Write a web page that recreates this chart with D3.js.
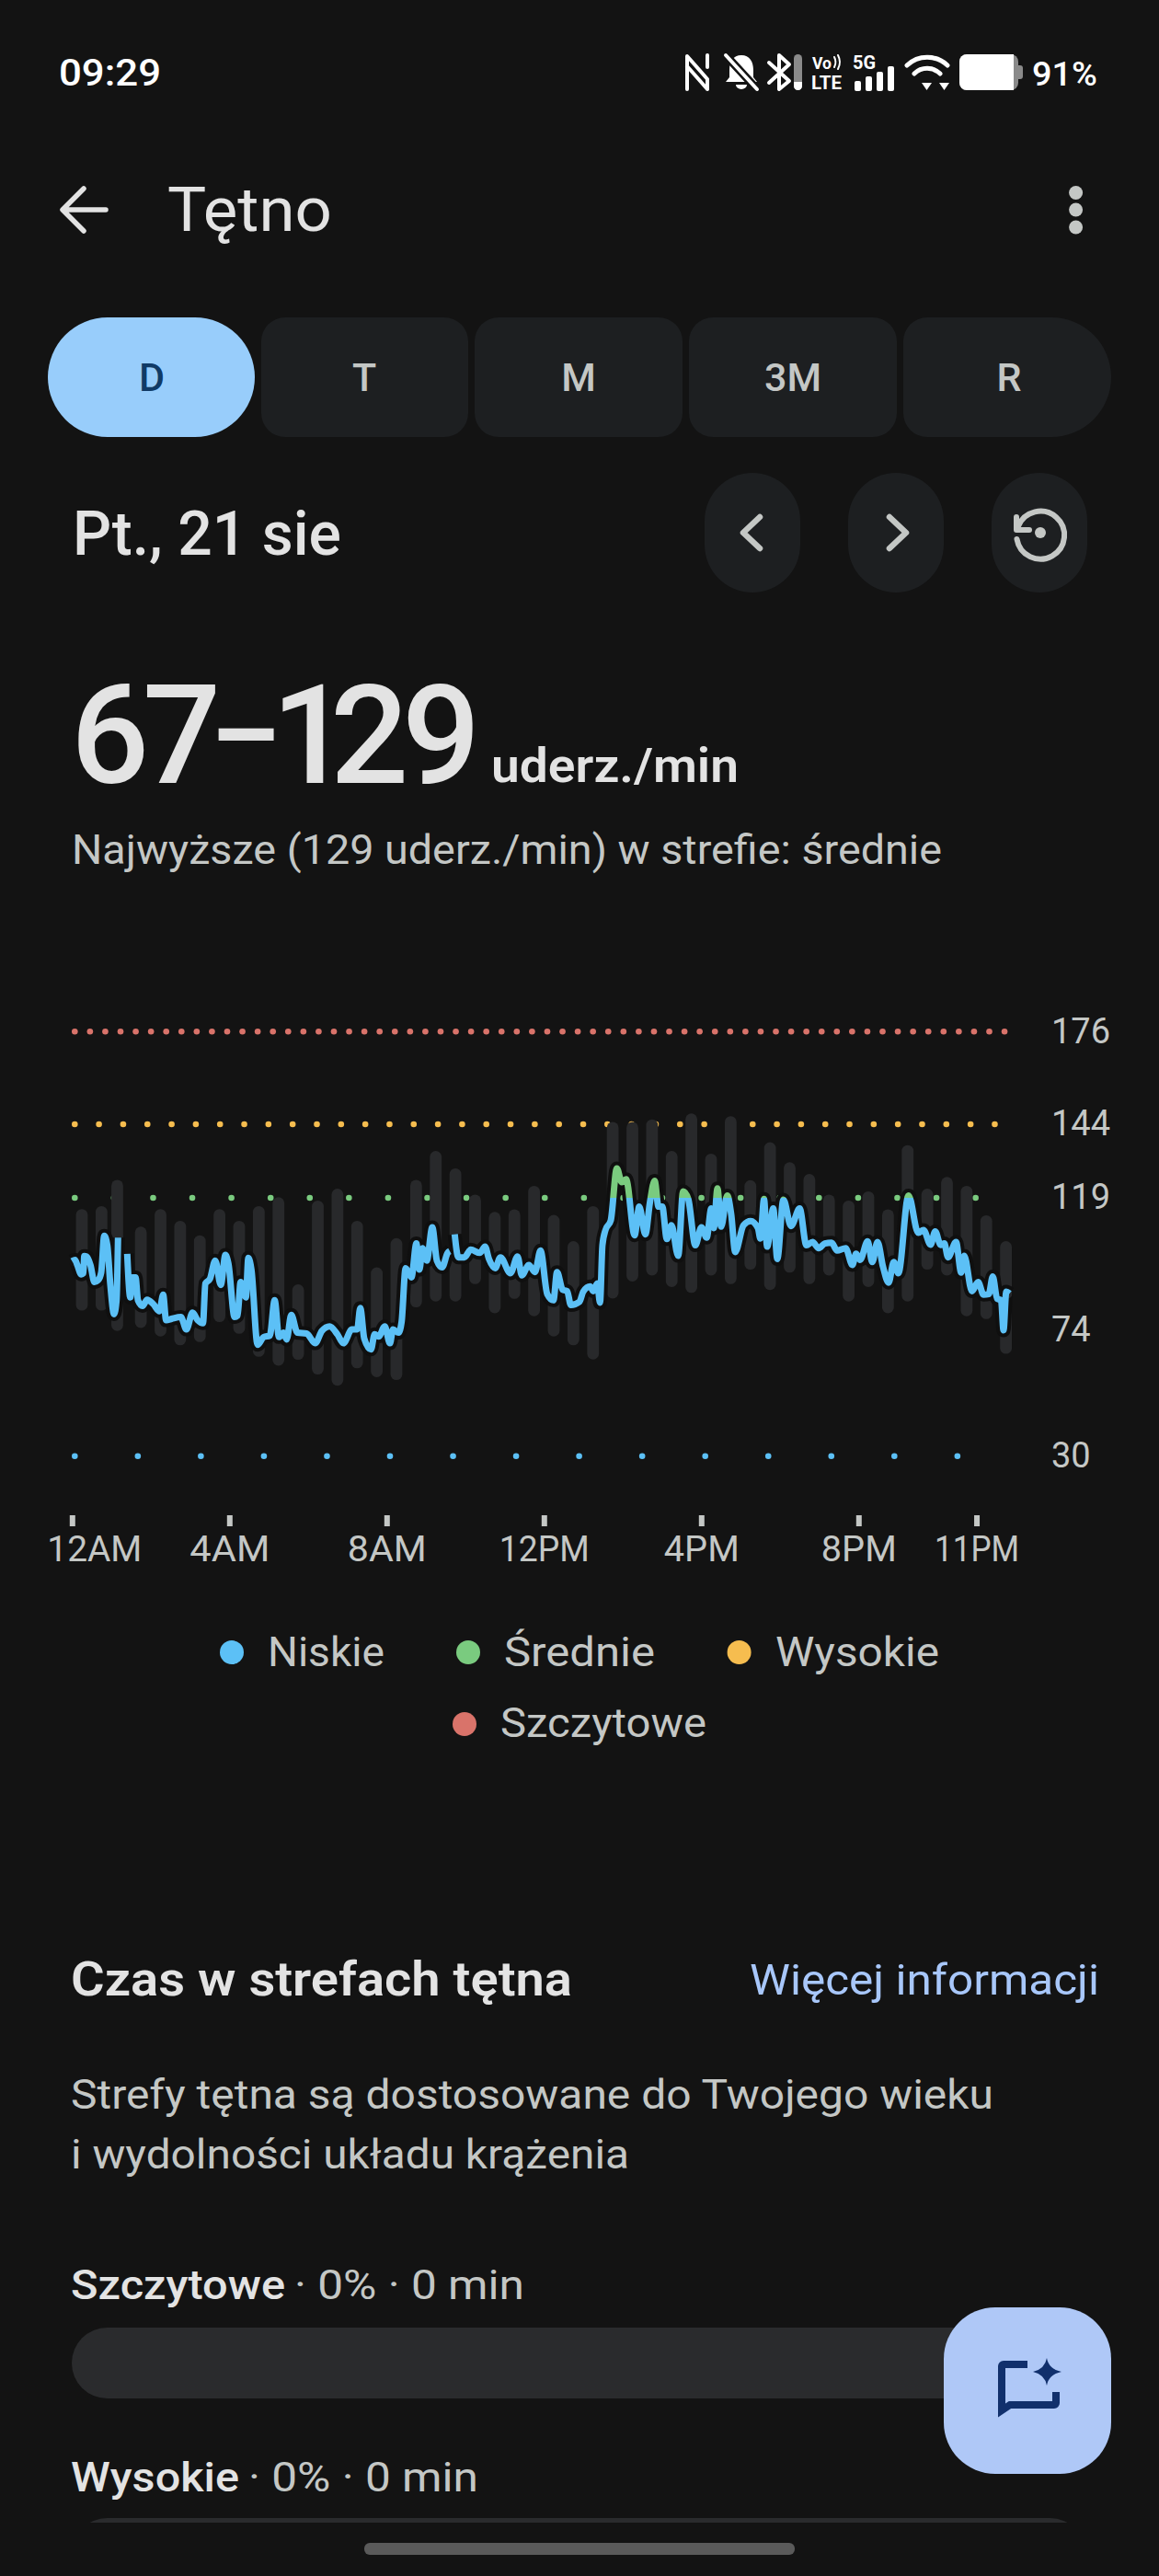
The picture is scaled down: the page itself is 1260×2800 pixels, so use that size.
<!DOCTYPE html>
<html lang="pl"><head><meta charset="utf-8">
<script src="https://cdn.jsdelivr.net/npm/d3@7"></script>
<style>html,body{margin:0;padding:0;background:#131313}svg{display:block}text{font-family:Roboto,sans-serif}</style>
</head><body><svg id="c" width="1260" height="2800" viewBox="0 0 1260 2800"></svg>
<script>
// ---------- data ----------
const zoneValues=[176,144,119,74,30];
const xTickMinutes=[0,240,480,720,960,1200,1380];
const xTickLabels=["12AM","4AM","8AM","12PM","4PM","8PM","11PM"];
const legendLabels=["Niskie","Średnie","Wysokie","Szczytowe"];
const tabLabels=["D","T","M","3M","R"];
const barMinutes=[15,45,69,105,135,165,195,225,255,285,315,345,375,405,435,465,495,525,555,585,615,645,675,705,735,765,795,825,855,885,915,945,975,1005,1035,1065,1095,1125,1155,1185,1215,1245,1275,1305,1335,1365,1395,1425];
const barHigh=[115.2,116.2,125.1,109.2,115.2,111.2,106.3,115.2,111.2,116.2,119.2,89.6,118.1,122.1,111.2,95.4,105.3,125.1,134.9,129,120.1,114.2,115.1,123.1,113.2,104.3,116.2,144.8,144.8,145.7,134.9,147.7,134,146.8,125,137.9,131.1,127.1,120.1,118.1,121.2,115.1,136.9,122.1,126.1,123.1,113.1,104.3];
const barLow=[80.7,80.7,73.8,74.8,71.9,68.9,70,76.8,72.8,65,62,64,59,55.1,61.1,58.1,57.1,81.8,83.8,83.8,89.7,79.8,84.7,78.8,71.9,68.9,64.1,84.8,90.6,92.6,88.7,86.7,92.6,89.7,94.6,87.7,93.6,89.7,92.6,83.8,88.7,79.8,83.8,94.6,92.6,78.8,77.8,66];
const lineMinutes=[0,4.7,8,14.1,17.3,18.7,22.5,28.1,34.2,39.8,44.5,49.2,53.8,58.5,64.1,67.9,70.2,null,
84.2,88.9,92.2,96.9,100.6,107.6,114.6,124,133.4,139,143.6,152.1,166.1,174.5,183.9,191.8,199.8,203.5,210.5,218.5,227,234,238.6,248,252.6,257.3,265.3,269,273.7,283.1,292.4,301.8,309.2,315.8,322.8,327.5,334.5,343.9,357.9,371,381.3,393,404.7,414,427.1,435.1,439.8,445.9,456.1,461.8,467.8,477.2,485.1,489.8,498.2,502.9,509,517.9,525.4,530.1,534.7,541.3,549.7,556.7,564.7,573.1,576.4,null,
583.9,589.5,598.8,608.2,622.2,630.2,636.2,645.6,653.6,669,679.8,686.3,697.1,706.4,714.8,725.1,734.5,740.1,748.5,755.5,761.1,774.3,779.9,790.6,795.3,801.4,805.6,809.3,814,822,831.3,838.8,845.4,858.4,865.5,874.8,881.8,888.9,894.9,900.6,907.6,914.6,924.9,932.4,940.3,951.1,960.4,968.4,975.4,979.2,984.8,990.4,999.7,1005.8,1011.9,1024.6,1035.4,1046.6,1050.3,1055.9,1060.6,1070,1076.1,1085.4,1097.1,1110.2,1120.5,1129.9,1139.2,1148.6,1158.9,1167.3,1180.4,1190.7,1196.3,1202.4,1214,1221,1229,1237.4,1245.9,1253.8,1260.8,1276.3,1291.2,1299.2,1310,1317,1325.4,1331,1336.6,1348.8,1356.7,1361.4,1373.1,1382.5,1390.9,1398.8,1404.9,1411.5,1417.6,1421.3,1425.5,1430.6];
const lineBpm=[97.5,97.9,96.2,93,93.4,99.2,99,96.2,90.4,91,93.6,106.1,102.9,89.4,79.5,84.2,105.5,null,
100,85.2,92,92,84.2,82.3,84.4,82.9,80.5,86.1,77.4,77.9,78.5,74.3,80,77.4,76.4,89.9,91.5,97.7,89.4,99.6,96.7,78.5,79,90.4,85.2,98.6,94.6,69.1,71.7,72.2,84.2,71.7,73.2,70.9,79.2,73.2,72.9,69.6,73.8,75.3,72.7,69.6,74.3,74.3,81.6,71.2,67.5,72.7,71.9,75.3,69.6,74.3,73.2,76.9,95.1,92,103.5,94.6,101.9,97.7,109,97.7,95.4,100.3,100.9,null,
106.6,98.8,98.8,101.4,100.3,102.4,98.2,95.1,98.8,93.4,99.1,92.7,96.2,93.8,101.1,86.3,84.2,93.8,87.8,87.3,82.6,83.7,87.1,88.9,87.3,89.9,83.4,102.9,108.1,111.3,129,124.3,125.3,106.3,116,106.6,117.5,124.8,116,116,105,109.7,99.3,121.2,118.6,102.9,109,105.5,115.4,108.7,122.2,109.2,119.8,113.4,100.6,109.7,111.1,108.7,105.2,118.6,102.4,115.4,98.2,118.4,109.4,115.4,102.9,104,101.9,103.5,103.8,101.1,101.9,96.2,100,97.9,104.2,97.2,104,95.6,90.2,97.2,93.4,119.8,107.1,108.1,103.1,107.6,103,103.5,98.8,104,93.6,99.3,87.3,90.4,86.1,86.3,92.3,84.7,84.2,74,87.1,86.5];

// ---------- palette ----------
const BG="#131313",TXT="#e3e3e3",MUTED="#c4c7c5",PANEL="#1d1f21",BAR="#28292b";
const cBlue="#5cc0f6",cGreen="#7acb7f",cOrange="#f6bd4f",cRed="#d9736a";

const svg=d3.select("#c");
function t(s,x0,x1,base,size,weight,fill,anchor){
  const e=svg.append("text").attr("x",x0).attr("y",base).attr("font-size",size).attr("font-weight",weight).attr("fill",fill).text(s);
  if(anchor)e.attr("text-anchor",anchor);
  if(x1!=null)e.attr("textLength",x1-x0).attr("lengthAdjust","spacingAndGlyphs");
  return e;
}
const x=d3.scaleLinear().domain([0,1440]).range([78.3,1104.3]);
const y=d3.scaleLinear().domain([30,57,144,176]).range([1582.7,1500.4,1222,1121.3]);

// ---------- status bar ----------
t("09:29",64,175,93,40,500,"#fff");
t("91%",1122,1193,93,36,500,"#fff");
const ico=svg.append("g").attr("fill","none").attr("stroke","#fff").attr("stroke-linejoin","round").attr("stroke-linecap","round");
ico.append("path").attr("d","M747 97V61L769 86V97M769 61V60M747 72L769 97M769 60V73").attr("stroke-width",4);
ico.append("path").attr("d","M806 60c-9 0-13 7-13 16v8l-4 5h34l-4-5v-8c0-9-4-16-13-16zM800 92a6 5 0 0 0 12 0z").attr("fill","#fff").attr("stroke","none");
ico.append("path").attr("d","M789 60L823 97").attr("stroke",BG).attr("stroke-width",9);
ico.append("path").attr("d","M789 60L823 97").attr("stroke-width",4);
ico.append("path").attr("d","M836 68L858 88L847 97V60L858 70L836 90").attr("stroke-width",4);
svg.append("rect").attr("x",863).attr("y",59).attr("width",9).attr("height",39).attr("rx",4.5).attr("fill","#8a8a8a");
svg.append("path").attr("d","M863 89h9v4.5a4.5 4.5 0 0 1-9 0z").attr("fill","#fff");
t("Vo",883,904,75,19,700,"#fff");
ico.append("path").attr("d","M907 62a12 12 0 0 1 0 11M911 60a16 16 0 0 1 0 15").attr("stroke-width",2);
t("LTE",882,915,97,20,700,"#fff");
t("5G",927,952,75,20,700,"#fff");
[[929,88],[941,83],[953,78],[965,72]].forEach(d=>svg.append("rect").attr("x",d[0]).attr("y",d[1]).attr("width",7).attr("height",99-d[1]).attr("rx",2).attr("fill","#fff"));
ico.append("path").attr("d","M986 71a32 32 0 0 1 44 0M994 80a20 20 0 0 1 28 0").attr("stroke-width",5);
svg.append("path").attr("d","M1002 90h11l-5.500 8zM1021 90h11l-5.500 8z").attr("fill","#fff");
svg.append("rect").attr("x",1043).attr("y",59).attr("width",64).attr("height",39).attr("rx",8).attr("fill","#8a8a8a");
svg.append("path").attr("d","M1051 59H1102V98H1051a8 8 0 0 1-8-8V67a8 8 0 0 1 8-8z").attr("fill","#fff");
svg.append("path").attr("d","M1107 71h2a3 3 0 0 1 3 3v9a3 3 0 0 1-3 3h-2z").attr("fill","#8a8a8a");

// ---------- top bar ----------
svg.append("path").attr("d","M115 228H69M91 205L68 228L91 251").attr("fill","none").attr("stroke",TXT).attr("stroke-width",5.5).attr("stroke-linecap","round").attr("stroke-linejoin","round");
t("Tętno",182,361,251,66,400,TXT);
[209.5,228,247].forEach(c=>svg.append("circle").attr("cx",1169.6).attr("cy",c).attr("r",7.5).attr("fill",MUTED));

// ---------- tabs ----------
const tabX=[[52,277],[284,509],[516,742],[749,975],[982,1208]];
function pillPath(a,b,t0,h,rl,rr){
  return `M${a+rl} ${t0}H${b-rr}A${rr} ${rr} 0 0 1 ${b} ${t0+rr}V${t0+h-rr}A${rr} ${rr} 0 0 1 ${b-rr} ${t0+h}H${a+rl}A${rl} ${rl} 0 0 1 ${a} ${t0+h-rl}V${t0+rl}A${rl} ${rl} 0 0 1 ${a+rl} ${t0}Z`;
}
const tabTextX=[165,396,629,862,1097];
tabLabels.forEach((l,i)=>{
  const [a,b]=tabX[i];
  svg.append("path").attr("d",pillPath(a,b,345,130,i===0?65:26,(i===0||i===4)?65:26)).attr("fill",i===0?"#98cdfb":PANEL);
  t(l,tabTextX[i],null,425,43,500,i===0?"#103a66":MUTED,"middle");
});

// ---------- date row ----------
t("Pt., 21 sie",79,371,603,66,500,TXT);
[[766,870],[922,1026],[1078,1182]].forEach(d=>svg.append("rect").attr("x",d[0]).attr("y",514).attr("width",d[1]-d[0]).attr("height",130).attr("rx",52).attr("fill",PANEL));
const chev=svg.append("g").attr("fill","none").attr("stroke",MUTED).attr("stroke-width",6.5).attr("stroke-linecap","round").attr("stroke-linejoin","round");
chev.append("path").attr("d","M826 562L808 579L826 596");
chev.append("path").attr("d","M967 562L985 579L967 596");
chev.append("path").attr("d","M1105 562v14h14M1107 572A26 26 0 1 1 1105.500 586").attr("stroke-width",6);
svg.append("circle").attr("cx",1131).attr("cy",579).attr("r",6).attr("fill",MUTED);

// ---------- headline ----------
const big=svg.append("text").attr("y",851).attr("font-size",150).attr("font-weight",500).attr("fill",TXT);
big.append("tspan").attr("x","77 155").text("67");
big.append("tspan").attr("x",229).attr("dy",-11).attr("font-size",118).attr("font-weight",700).text("–");
big.append("tspan").attr("x","295 359 437").attr("dy",11).text("129");
t("uderz./min",534,803,850,52,600,TXT);
t("Najwyższe (129 uderz./min) w strefie: średnie",78,1024,939,45,400,MUTED);

// ---------- chart: zone dots ----------
const zoneDots=[{v:176,c:cRed,x0:81.3,x1:1092,step:16.57,r:3.3},{v:144,c:cOrange,x0:81.3,x1:1081.7,step:26.32,r:3.3},{v:119,c:cGreen,x0:81.3,x1:1060.7,step:42.58,r:3.3},{v:30,c:cBlue,x0:81.3,x1:1040.8,step:68.54,r:3.3}];
zoneDots.forEach(z=>{
  svg.append("g").selectAll("circle").data(d3.range(Math.round((z.x1-z.x0)/z.step)+1)).join("circle")
   .attr("cx",i=>z.x0+i*z.step).attr("cy",y(z.v)).attr("r",z.r).attr("fill",z.c);
});
// ---------- chart: range bars ----------
svg.append("g").selectAll("rect").data(barMinutes).join("rect")
  .attr("x",d=>x(d)-6.4).attr("width",12.8).attr("rx",6.4)
  .attr("y",(d,i)=>y(barHigh[i])).attr("height",(d,i)=>y(barLow[i])-y(barHigh[i])).attr("fill",BAR);
// ---------- chart: line ----------
const pts=lineMinutes.map((m,i)=>({m,v:lineBpm[i]}));
const line=d3.line().defined(d=>d.m!==null).x(d=>x(d.m)).y(d=>y(d.v)).curve(d3.curveMonotoneX);
const defs=svg.append("defs");
const g=defs.append("linearGradient").attr("id","zone").attr("gradientUnits","userSpaceOnUse").attr("x1",0).attr("x2",0).attr("y1",y(129)).attr("y2",y(100));
const p=(y(119)-y(129))/(y(100)-y(129));
[[0,cGreen],[p,cGreen],[p,cBlue],[1,cBlue]].forEach(s=>g.append("stop").attr("offset",s[0]).attr("stop-color",s[1]));
svg.append("path").attr("d",line(pts)).attr("fill","none").attr("stroke","#0f0f0f").attr("stroke-width",15).attr("stroke-linejoin","round");
svg.append("path").attr("d",line(pts)).attr("fill","none").attr("stroke","url(#zone)").attr("stroke-width",7).attr("stroke-linejoin","round");

// ---------- axes ----------
const yAxis=d3.axisRight(y).tickValues(zoneValues).tickSize(0).tickPadding(0).tickFormat(d3.format("d"));
const gy=svg.append("g").attr("transform","translate(1143,-1.500)").call(yAxis);
gy.select(".domain").remove();
gy.selectAll("text").attr("font-size",38).attr("fill",MUTED).attr("dy","0.35em").attr("text-anchor","start");
const xLabelWidths=[103,87,86,98,82,82,92];
const xAxis=d3.axisBottom(x).tickValues(xTickMinutes).tickSize(12).tickPadding(0).tickFormat((d,i)=>xTickLabels[i]);
const gx=svg.append("g").attr("transform","translate(0,1647)").call(xAxis);
gx.select(".domain").remove();
gx.selectAll("line").attr("stroke",MUTED).attr("stroke-width",6);
gx.selectAll("text").attr("font-size",38).attr("fill",MUTED).attr("y",50).attr("dy",0).attr("text-anchor","middle").attr("dx",(d,i)=>i===0?24:0)
  .attr("textLength",(d,i)=>xLabelWidths[i]).attr("lengthAdjust","spacingAndGlyphs");

// ---------- legend ----------
const legendPos=[[252,1796,291,418,1810.700],[509,1796,548,712,1810.700],[803.600,1796,843,1021,1810.700],[505,1874,544,768,1888]];
[cBlue,cGreen,cOrange,cRed].forEach((c,i)=>{
  const q=legendPos[i];
  svg.append("circle").attr("cx",q[0]).attr("cy",q[1]).attr("r",13).attr("fill",c);
  t(legendLabels[i],q[2],q[3],q[4],44,400,MUTED);
});

// ---------- zones section ----------
t("Czas w strefach tętna",77,622,2169,52,600,TXT);
t("Więcej informacji",815,1195,2168,47,400,"#a8c7fa");
t("Strefy tętna są dostosowane do Twojego wieku",77,1080,2292,45,400,MUTED);
t("i wydolności układu krążenia",77,684,2357,45,400,MUTED);
t("Szczytowe",77,310,2499,45,500,TXT);
t("· 0% · 0 min",320,570,2499,45,400,MUTED);
svg.append("rect").attr("x",78).attr("y",2530).attr("width",1102).attr("height",77).attr("rx",38.500).attr("fill","#2a2b2d");
t("Wysokie",77,260,2708,45,500,TXT);
t("· 0% · 0 min",270,520,2708,45,400,MUTED);
svg.append("clipPath").attr("id","cb").append("rect").attr("x",0).attr("y",2700).attr("width",1260).attr("height",42);
svg.append("rect").attr("x",78).attr("y",2737).attr("width",1102).attr("height",77).attr("rx",38.500).attr("fill","#2a2b2d").attr("clip-path","url(#cb)");

// ---------- FAB ----------
svg.append("rect").attr("x",1026).attr("y",2508).attr("width",182).attr("height",181).attr("rx",56).attr("fill","#afc8f7");
svg.append("path").attr("d","M1117 2570H1091a2 2 0 0 0-2 2V2620L1098 2614H1146a2 2 0 0 0 2-2V2600").attr("fill","none").attr("stroke","#11306c").attr("stroke-width",8);
svg.append("path").attr("d","M1138 2563Q1140 2575 1154 2578Q1140 2581 1138 2593Q1136 2581 1123 2578Q1136 2575 1138 2563Z").attr("fill","#11306c");

// ---------- nav pill ----------
svg.append("rect").attr("x",396).attr("y",2764).attr("width",468).attr("height",13).attr("rx",6).attr("fill","#5a5a5a");
</script></body></html>
